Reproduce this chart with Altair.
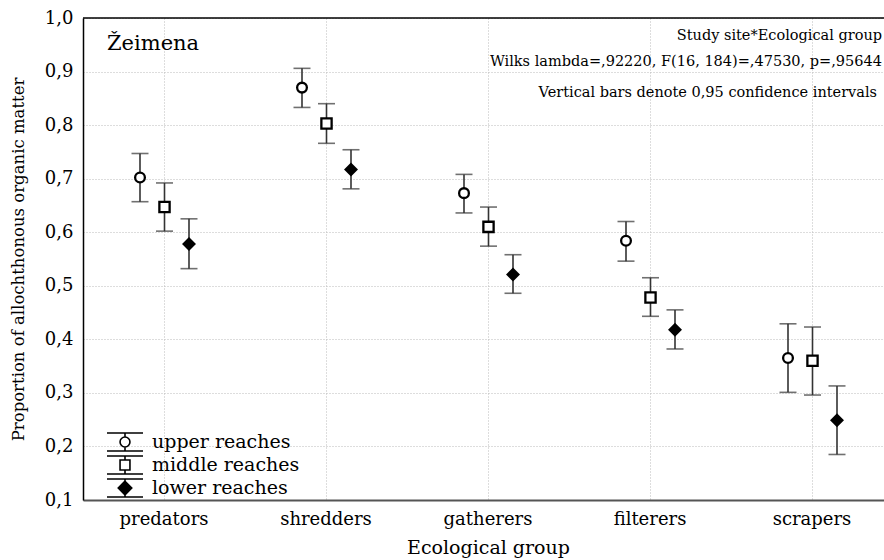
import altair as alt
import pandas as pd

groups = ["predators", "shredders", "gatherers", "filterers", "scrapers"]
reaches = ["upper reaches", "middle reaches", "lower reaches"]

upper_mean = [0.702, 0.870, 0.673, 0.584, 0.365]
upper_lo = [0.657, 0.833, 0.636, 0.546, 0.301]
upper_hi = [0.747, 0.906, 0.708, 0.620, 0.429]

middle_mean = [0.647, 0.803, 0.610, 0.478, 0.360]
middle_lo = [0.602, 0.766, 0.574, 0.443, 0.296]
middle_hi = [0.692, 0.840, 0.647, 0.515, 0.423]

lower_mean = [0.578, 0.717, 0.521, 0.418, 0.249]
lower_lo = [0.532, 0.681, 0.486, 0.382, 0.185]
lower_hi = [0.625, 0.754, 0.558, 0.455, 0.313]

y_ticks = [0.1, 0.2, 0.3, 0.4, 0.5, 0.6, 0.7, 0.8, 0.9, 1.0]

rows = []
for r, m, lo, hi in [
    (reaches[0], upper_mean, upper_lo, upper_hi),
    (reaches[1], middle_mean, middle_lo, middle_hi),
    (reaches[2], lower_mean, lower_lo, lower_hi),
]:
    for g, mv, l, h in zip(groups, m, lo, hi):
        rows.append({"group": g, "reach": r, "reach_lg": r, "mean": mv, "lo": l, "hi": h})
df = pd.DataFrame(rows)

FONT = "DejaVu Serif"
W, H = 801, 482

x_enc = alt.X(
    "group:N",
    sort=groups,
    scale=alt.Scale(range=[0, 810], paddingInner=0, paddingOuter=0),
    axis=alt.Axis(
        title="Ecological group",
        labelAngle=0,
        labelFont=FONT,
        labelFontSize=18,
        labelColor="black",
        labelPadding=10,
        titleFont=FONT,
        titleFontSize=19,
        titleFontWeight="normal",
        titleColor="black",
        titlePadding=10,
        ticks=False,
        domainColor="#555555",
        domainWidth=2,
        grid=True,
        bandPosition=0.5,
        gridColor="#bbbbbb",
        gridDash=[1, 2],
        gridWidth=1,
    ),
)
xoff = alt.XOffset("reach:N", sort=reaches, scale=alt.Scale(type="point", range=[57, 106], padding=0))

y_scale = alt.Scale(domain=[0.1, 1.0], nice=False, zero=False)

base = alt.Chart(df)

rule = base.mark_rule(color="#333333", strokeWidth=1.6).encode(
    x=x_enc,
    xOffset=xoff,
    y=alt.Y(
        "lo:Q",
        scale=y_scale,
        axis=alt.Axis(
            title="Proportion of allochthonous organic matter",
            values=y_ticks,
            labelExpr="replace(format(datum.value, '.1f'), '.', ',')",
            labelFont=FONT,
            labelFontSize=18,
            labelColor="black",
            labelPadding=10,
            titleFont=FONT,
            titleFontSize=16.5,
            titleFontWeight="normal",
            titleColor="black",
            titlePadding=18,
            ticks=False,
            domainColor="black",
            domainWidth=1.5,
            grid=True,
            gridColor="#bbbbbb",
            gridDash=[1, 2],
            gridWidth=1,
        ),
    ),
    y2="hi:Q",
)

cap_hi = base.mark_tick(color="#333333", thickness=1.6, size=17).encode(
    x=alt.X("group:N", sort=groups), xOffset=xoff, y=alt.Y("hi:Q", scale=y_scale)
)
cap_lo = base.mark_tick(color="#333333", thickness=1.6, size=17).encode(
    x=alt.X("group:N", sort=groups), xOffset=xoff, y=alt.Y("lo:Q", scale=y_scale)
)

points = base.mark_point(filled=False, opacity=1, strokeWidth=2.3, stroke="black").encode(
    x=alt.X("group:N", sort=groups),
    xOffset=xoff,
    y=alt.Y("mean:Q", scale=y_scale),
    shape=alt.Shape(
        "reach:N",
        scale=alt.Scale(domain=reaches, range=["circle", "square", "diamond"]),
        legend=None,
    ),
    fill=alt.Fill(
        "reach:N",
        scale=alt.Scale(domain=reaches, range=["white", "white", "black"]),
        legend=None,
    ),
    size=alt.Size(
        "reach:N",
        scale=alt.Scale(domain=reaches, range=[95, 115, 135]),
        legend=None,
    ),
)

p_circle = "M-2,-1L2,-1M-2,1L2,1M0,-1L0,-0.55M0,0.55L0,1M0.55,0A0.55,0.55,0,1,1,-0.55,0A0.55,0.55,0,1,1,0.55,0Z"
p_square = "M-2,-1L2,-1M-2,1L2,1M0,-1L0,-0.55M0,0.55L0,1M-0.55,-0.55L0.55,-0.55L0.55,0.55L-0.55,0.55Z"
p_diamond = "M-2,-1L2,-1M-2,1L2,1M0,-1L0,1M0,-0.75L0.75,0L0,0.75L-0.75,0Z"

leg = alt.Legend(
    title=None,
    orient="none",
    legendX=32,
    legendY=414,
    labelFont=FONT,
    labelFontSize=19,
    labelColor="black",
    labelOffset=17,
    rowPadding=-3,
    padding=0,
    symbolStrokeColor="black",
    symbolStrokeWidth=1.6,
    symbolSize=324,
)

legend_layer = base.transform_filter("false").mark_point(
    filled=False, opacity=1, size=324, strokeWidth=1.6
).encode(
    x=alt.X("group:N", sort=groups),
    y=alt.Y("mean:Q", scale=y_scale),
    shape=alt.Shape(
        "reach_lg:N",
        scale=alt.Scale(domain=reaches, range=[p_circle, p_square, p_diamond]),
        legend=leg,
    ),
    fill=alt.Fill(
        "reach_lg:N",
        scale=alt.Scale(domain=reaches, range=["white", "white", "black"]),
        legend=leg,
    ),
    stroke=alt.Stroke(
        "reach_lg:N",
        scale=alt.Scale(domain=reaches, range=["black", "black", "black"]),
        legend=leg,
    ),
)

border = alt.Chart(pd.DataFrame({"a": [0]})).mark_rule(color="black", strokeWidth=1.5).encode(
    x=alt.value(0), x2=alt.value(W), y=alt.value(0)
)

ann_df = pd.DataFrame({"a": [0]})
t_site = alt.Chart(ann_df).mark_text(
    text="Žeimena", font=FONT, fontSize=21, align="left", baseline="alphabetic", color="black"
).encode(x=alt.value(24), y=alt.value(32))
t1 = alt.Chart(ann_df).mark_text(
    text="Study site*Ecological group", font=FONT, fontSize=14.5, align="right", baseline="alphabetic", color="black"
).encode(x=alt.value(799), y=alt.value(22))
t2 = alt.Chart(ann_df).mark_text(
    text="Wilks lambda=,92220, F(16, 184)=,47530, p=,95644", font=FONT, fontSize=14.5, align="right", baseline="alphabetic", color="black"
).encode(x=alt.value(799), y=alt.value(48))
t3 = alt.Chart(ann_df).mark_text(
    text="Vertical bars denote 0,95 confidence intervals", font=FONT, fontSize=14.5, align="right", baseline="alphabetic", color="black"
).encode(x=alt.value(794), y=alt.value(79))

chart = alt.layer(
    rule, cap_hi, cap_lo, points, legend_layer, border, t_site, t1, t2, t3
).resolve_scale(shape="independent", fill="independent", stroke="independent").properties(
    width=W,
    height=H,
    autosize=alt.AutoSizeParams(type="none"),
    padding={"left": 83, "top": 18, "right": 0, "bottom": 60},
    background="white",
).configure_view(stroke=None)

chart.save("out.html", embed_options={"renderer": "svg", "actions": False})
